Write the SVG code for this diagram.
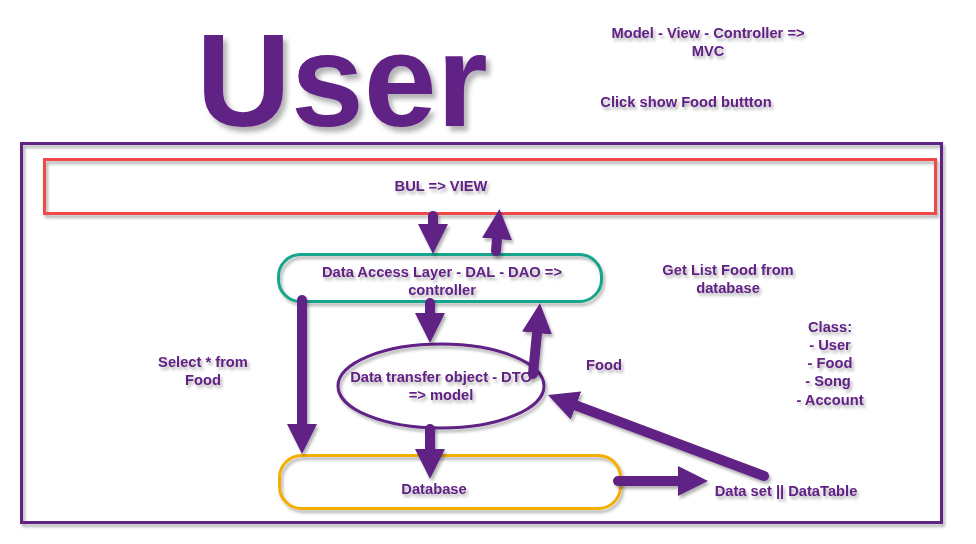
<svg xmlns="http://www.w3.org/2000/svg" width="976" height="544" viewBox="0 0 976 544">
<style>
text{font-family:"Liberation Sans",Arial,sans-serif;font-weight:bold;fill:#612084;font-size:14.7px;text-anchor:middle}
.box{fill:none;stroke-width:3}
.arr{stroke:#612084;stroke-width:10;stroke-linecap:round;fill:none;marker-end:url(#head)}
</style>
<defs>
<filter id="sh" x="-20%" y="-20%" width="140%" height="140%"><feDropShadow dx="2" dy="3" stdDeviation="1.5" flood-color="#000" flood-opacity="0.3"/></filter>
<filter id="shb" x="-20%" y="-20%" width="140%" height="140%"><feDropShadow dx="4" dy="5" stdDeviation="2.5" flood-color="#000" flood-opacity="0.3"/></filter>
<marker id="head" markerUnits="userSpaceOnUse" markerWidth="30" markerHeight="30" viewBox="0 0 30 30" refX="0" refY="15" orient="auto"><path d="M0,0 L30,15 L0,30 Z" fill="#612084"/></marker>
</defs>
<rect width="976" height="544" fill="#fff"/>
<g id="title" filter="url(#shb)"><text x="342" y="126" style="font-size:131px">User</text></g>
<g id="notes" filter="url(#sh)">
<text x="708" y="38">Model - View - Controller =&gt;</text>
<text x="708" y="56">MVC</text>
<text x="686" y="107">Click show Food buttton</text>
<text x="728" y="275">Get List Food from</text>
<text x="728" y="293">database</text>
<text x="830" y="332">Class:</text>
<text x="830" y="350">- User</text>
<text x="830" y="368">- Food</text>
<text x="828" y="386">- Song</text>
<text x="830" y="405">- Account</text>
<text x="203" y="367">Select * from</text>
<text x="203" y="385">Food</text>
<text x="604" y="370">Food</text>
</g>
<g id="frame" filter="url(#sh)"><rect class="box" x="21.5" y="143.5" width="920" height="379" stroke="#612084"/></g>
<g id="bul" filter="url(#sh)"><rect class="box" x="44.5" y="159.5" width="891" height="54" stroke="#F04848"/><text x="441" y="191">BUL =&gt; VIEW</text></g>
<g id="dal" filter="url(#sh)"><rect class="box" x="278.5" y="254.5" width="323" height="47" rx="22" stroke="#17A58B"/><text x="442" y="277">Data Access Layer - DAL - DAO =&gt;</text><text x="442" y="295">controller</text></g>
<g id="dto" filter="url(#sh)"><ellipse class="box" cx="441" cy="386" rx="103" ry="42" stroke="#612084"/><text x="441" y="382">Data transfer object - DTO</text><text x="441" y="400">=&gt; model</text></g>
<g id="db" filter="url(#sh)"><rect class="box" x="279.5" y="455.5" width="341" height="53" rx="22" stroke="#F4AE00"/><text x="434" y="494">Database</text></g>
<g id="dataset" filter="url(#sh)"><text x="786" y="496">Data set || DataTable</text></g>
<g id="connectors" filter="url(#sh)">
<line class="arr" x1="433" y1="216" x2="433" y2="224"/>
<line class="arr" x1="496" y1="251" x2="497" y2="239"/>
<line class="arr" x1="430" y1="303" x2="430" y2="313"/>
<line class="arr" x1="533" y1="374" x2="537" y2="333"/>
<line class="arr" x1="302" y1="300" x2="302" y2="424"/>
<line class="arr" x1="430" y1="429" x2="430" y2="449"/>
<line class="arr" x1="618" y1="481" x2="678" y2="481"/>
<line class="arr" x1="764" y1="476" x2="576" y2="405.5"/>
</g>
</svg>
